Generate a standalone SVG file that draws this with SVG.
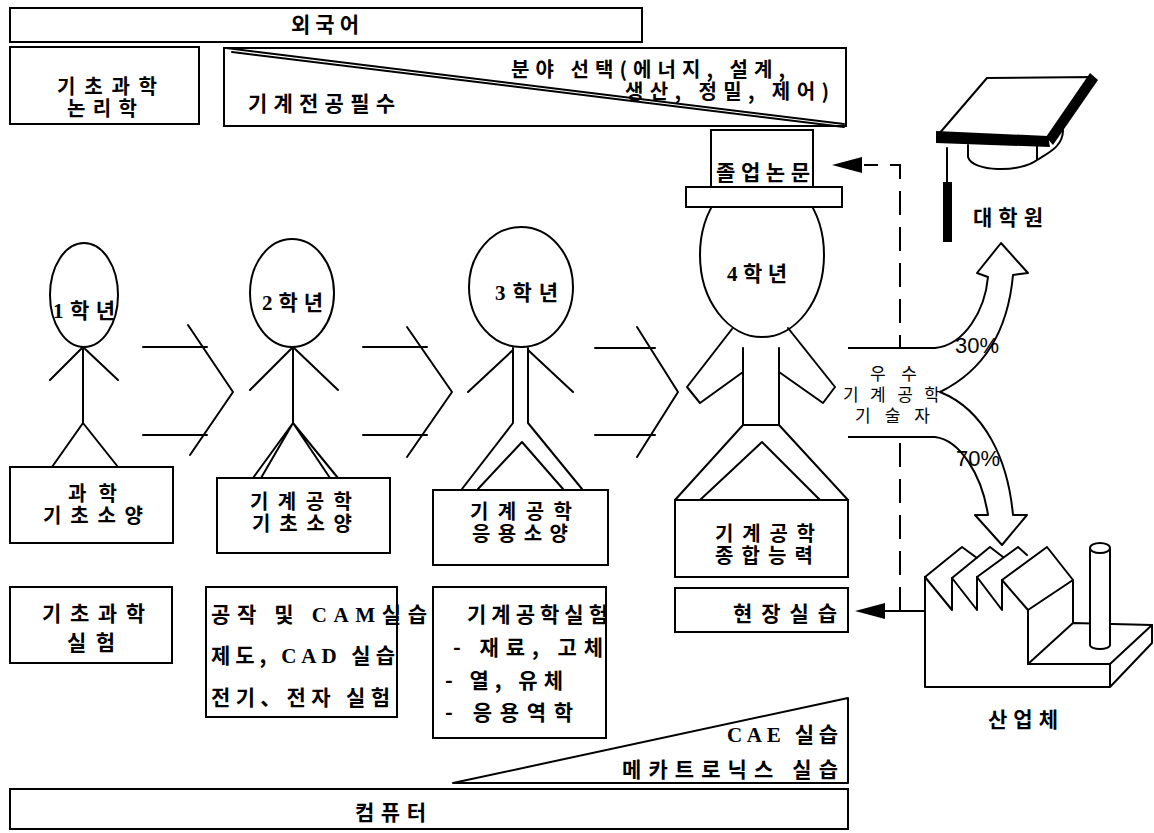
<svg xmlns="http://www.w3.org/2000/svg" width="1154" height="833" viewBox="0 0 1154 833">
<style>
.ln{fill:none;stroke:#000;stroke-width:2;stroke-linecap:round;stroke-linejoin:round}
.wf{fill:#fff;stroke:#000;stroke-width:2;stroke-linejoin:round}
.bx{fill:#fff;stroke:#000;stroke-width:2}
.k{font-family:"Noto Sans CJK KR",sans-serif;font-weight:700;font-size:21px;fill:#000}
.s{font-size:20px}
.e{font-family:"Liberation Serif",serif;font-weight:700}
.p{font-family:"Liberation Sans",sans-serif;font-size:22px;fill:#000}
.n{font-weight:400;font-size:17px}
.d{fill:none;stroke:#000;stroke-width:2;stroke-dasharray:24 12}
.ah{fill:#000}
</style>
<rect width="1154" height="833" fill="#fff"/>

<!-- top bands -->
<g id="foreign-language">
<rect class="bx" x="10" y="8" width="632" height="34"/>
<text class="k" x="291" y="32" textLength="68" lengthAdjust="spacing">외국어</text>
</g>
<g id="basic-science-logic">
<rect class="bx" x="10" y="47" width="189" height="77"/>
<text class="k s" x="57" y="94" textLength="100" lengthAdjust="spacing">기초과학</text>
<text class="k s" x="67" y="116" textLength="70" lengthAdjust="spacing">논리학</text>
</g>
<g id="major-track">
<rect class="bx" x="224" y="48" width="622" height="78"/>
<line class="ln" x1="226" y1="48" x2="844" y2="124"/>
<line class="ln" x1="232" y1="52" x2="844" y2="127"/>
<text class="k" x="248" y="111" textLength="147" lengthAdjust="spacing">기계전공필수</text>
<text class="k s" x="511" y="77" textLength="274" lengthAdjust="spacing">분야 선택(에너지, 설계,</text>
<text class="k s" x="625" y="99" textLength="204" lengthAdjust="spacing">생산, 정밀, 제어)</text>
</g>

<!-- connectors -->
<g id="connectors">
<path class="ln" d="M143,347 H207 M143,435 H207 M188,325 L233,392 L190,455"/>
<path class="ln" d="M363,347 H427 M363,435 H427 M407,327 L452,392 L407,457"/>
<path class="ln" d="M595,348 H655 M595,435 H655 M637,327 L678,392 L637,457"/>
<path class="d" d="M900,611 V165 H864"/>
<polygon class="ah" points="832,165 862,157 862,173"/>
<path class="ln" d="M925,611 H884"/>
<polygon class="ah" points="855,611 885,603 885,619"/>
</g>

<!-- year 1 -->
<g id="year1">
<ellipse class="ln" cx="84" cy="295" rx="34" ry="52"/>
<path class="ln" d="M83,347 V423 M83,347 L50,380 M83,347 L118,380 M83,423 L52,467 M83,423 L118,467"/>
<text class="k" x="53" y="318" textLength="62" lengthAdjust="spacing"><tspan class="e">1</tspan>학년</text>
<rect class="bx" x="10" y="467" width="163" height="76"/>
<text class="k s" x="68" y="501" textLength="49" lengthAdjust="spacing">과학</text>
<text class="k s" x="43" y="523" textLength="100" lengthAdjust="spacing">기초소양</text>
</g>

<!-- year 2 -->
<g id="year2">
<ellipse class="ln" cx="292" cy="293" rx="42" ry="54"/>
<path class="ln" d="M293,347 V423 M293,347 L250,390 M293,347 L338,390 M293,423 L253,478 M293,423 L261,478 M293,423 L330,478 M293,423 L338,478"/>
<text class="k" x="262" y="310" textLength="61" lengthAdjust="spacing"><tspan class="e">2</tspan>학년</text>
<rect class="bx" x="217" y="478" width="173" height="75"/>
<text class="k s" x="250" y="509" textLength="102" lengthAdjust="spacing">기계공학</text>
<text class="k s" x="252" y="531" textLength="100" lengthAdjust="spacing">기초소양</text>
</g>

<!-- year 3 -->
<g id="year3">
<ellipse class="ln" cx="521" cy="287" rx="52" ry="60"/>
<path class="ln" d="M513,348 V423 L462,489 M528,348 V423 L582,489 M478,489 L522,442 L563,489 M513,350 L468,392 M528,350 L573,392"/>
<text class="k" x="495" y="300" textLength="63" lengthAdjust="spacing"><tspan class="e">3</tspan>학년</text>
<rect class="bx" x="433" y="490" width="175" height="75"/>
<text class="k s" x="470" y="519" textLength="102" lengthAdjust="spacing">기계공학</text>
<text class="k s" x="472" y="541" textLength="96" lengthAdjust="spacing">응용소양</text>
</g>

<!-- year 4 with thesis hat -->
<g id="year4">
<ellipse class="ln" cx="762" cy="255" rx="62" ry="82"/>
<path class="ln" d="M743,348 V425 H779 V348 M743,425 L675,500 M779,425 L848,500 M700,500 L762,442 L820,500"/>
<path class="ln" d="M732,329 L687,387 L700,403 L743,372 M788,328 L835,387 L823,403 L779,372"/>
<text class="k" x="727" y="281" textLength="60" lengthAdjust="spacing"><tspan class="e">4</tspan>학년</text>
<rect class="bx" x="675" y="500" width="173" height="77"/>
<text class="k s" x="715" y="541" textLength="100" lengthAdjust="spacing">기계공학</text>
<text class="k s" x="715" y="563" textLength="98" lengthAdjust="spacing">종합능력</text>
</g>
<g id="thesis">
<rect class="bx" x="711" y="130" width="102" height="57"/>
<rect class="bx" x="686" y="187" width="156" height="20"/>
<text class="k" x="716" y="180" textLength="94" lengthAdjust="spacing">졸업논문</text>
</g>

<!-- lab rows -->
<g id="lab1">
<rect class="bx" x="10" y="587" width="162" height="76"/>
<text class="k" x="42" y="621" textLength="103" lengthAdjust="spacing">기초과학</text>
<text class="k" x="67" y="650" textLength="48" lengthAdjust="spacing">실험</text>
</g>
<g id="lab2">
<rect class="bx" x="206" y="587" width="191" height="130"/>
<text class="k" x="211" y="622" textLength="216" lengthAdjust="spacing">공작 및 <tspan class="e">CAM</tspan>실습</text>
<text class="k" x="211" y="663" textLength="184" lengthAdjust="spacing">제도, <tspan class="e">CAD</tspan> 실습</text>
<text class="k" x="211" y="705" textLength="179" lengthAdjust="spacing">전기、전자 실험</text>
</g>
<g id="lab3">
<rect class="bx" x="433" y="587" width="173" height="151"/>
<text class="k" x="467" y="622" textLength="141" lengthAdjust="spacing">기계공학실험</text>
<text class="k" x="453" y="655" textLength="150" lengthAdjust="spacing">- 재료, 고체</text>
<text class="k" x="445" y="688" textLength="118" lengthAdjust="spacing">- 열, 유체</text>
<text class="k" x="445" y="720" textLength="128" lengthAdjust="spacing">- 응용역학</text>
</g>
<g id="field-practice">
<rect class="bx" x="675" y="588" width="173" height="44"/>
<text class="k" x="733" y="621" textLength="104" lengthAdjust="spacing">현장실습</text>
</g>

<!-- computer wedge and bar -->
<g id="cae">
<path class="ln" d="M453,783 L848,698 V783 Z"/>
<text class="k" x="727" y="742" textLength="111" lengthAdjust="spacing"><tspan class="e">CAE</tspan> 실습</text>
<text class="k" x="622" y="777" textLength="216" lengthAdjust="spacing">메카트로닉스 실습</text>
</g>
<g id="computer">
<rect class="bx" x="10" y="789" width="838" height="40"/>
<text class="k" x="355" y="820" textLength="71" lengthAdjust="spacing">컴퓨터</text>
</g>

<!-- graduate split arrows -->
<g id="graduates">
<path class="wf" d="M848,348 H935 C965,345 985,310 988,277 L977,273 L1001,243 L1028,273 L1013,275 C1008,330 985,370 940,392 C985,410 1008,460 1013,515 L1027,515 L1002,545 L975,515 L988,515 C982,475 960,440 935,437 H848"/>
<text class="k n" x="870" y="380" textLength="47" lengthAdjust="spacing">우수</text>
<text class="k n" x="843" y="401" textLength="97" lengthAdjust="spacing">기계공학</text>
<text class="k n" x="855" y="422" textLength="75" lengthAdjust="spacing">기술자</text>
<text class="p" x="955" y="353">30%</text>
<text class="p" x="956" y="466">70%</text>
</g>

<!-- graduate school -->
<g id="graduate-school">
<polygon class="wf" points="938,135 987,78 1093,77 1048,140"/>
<polygon class="ah" points="936,131 1048,136 1050,147 936,143"/>
<polygon class="ah" points="1046,137 1090,73 1098,80 1053,145"/>
<path class="ln" d="M968,145 V157 C972,172 1020,173 1037,160 C1050,152 1063,146 1063,130 M1037,146 V160"/>
<line class="ln" x1="947" y1="148" x2="947" y2="182"/>
<rect x="943" y="182" width="9" height="60" fill="#000"/>
<text class="k" x="973" y="225" textLength="70" lengthAdjust="spacing">대학원</text>
</g>

<!-- industry -->
<g id="industry">
<path class="ln" d="M925,577 V687 H1110 L1152,643 V625 L1073,623 M1110,687 V664 H1028 L1073,623"/>
<path class="ln" d="M1110,664 L1152,625"/>
<path class="ln" d="M925,577 L952,610 V578 L977,610 V577 L1002,610 V580 L1028,610 V664"/>
<path class="ln" d="M925,577 L962,547 L977,558 M952,578 L990,547 L1003,557 M977,577 L1018,547 L1027,555 M1002,580 L1047,547 L1073,580 L1028,610 M1073,580 V623"/>
<path class="wf" d="M1090,548 V645 A10,4 0 0 0 1110,645 V548"/>
<ellipse class="wf" cx="1100" cy="548" rx="10" ry="5"/>
<text class="k" x="988" y="727" textLength="70" lengthAdjust="spacing">산업체</text>
</g>
</svg>
